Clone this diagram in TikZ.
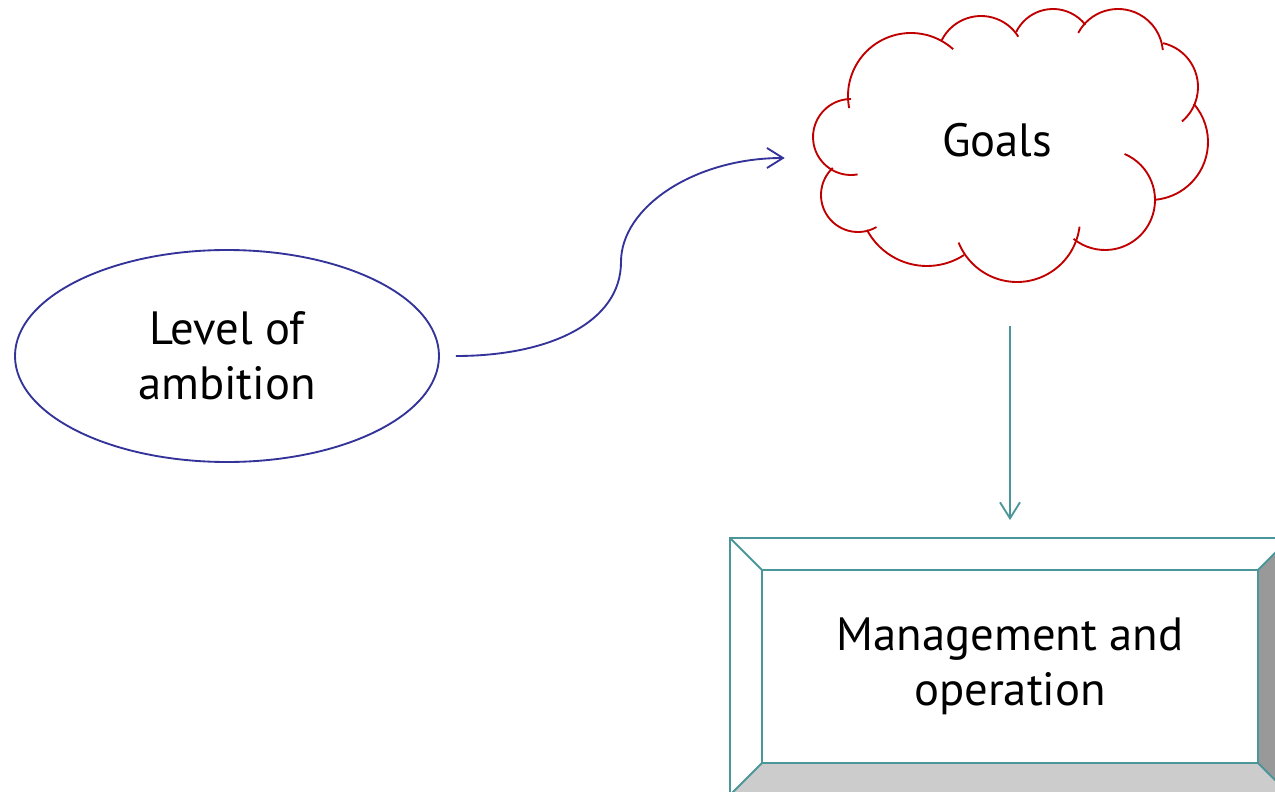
\documentclass[tikz,border=0pt]{standalone}
\usepackage{fontspec}
\setmainfont{PT Sans}
\usetikzlibrary{shapes.geometric,arrows.meta,calc}

\definecolor{ambblue}{RGB}{51,51,153}
\definecolor{goalred}{RGB}{192,0,0}
\definecolor{mgmtteal}{RGB}{75,150,153}

\tikzset{
  labeltext/.style={font=\fontsize{35}{41}\selectfont, align=center, text=black},
  barb/.style={-{Straight Barb[length=12pt,width=15pt]}},
  puff/.style={draw=goalred, line width=1.4pt},
}

\begin{document}
\begin{tikzpicture}[x=0.75pt,y=0.75pt,yscale=-1,xscale=1]
\clip (0,0) rectangle (1275,792);

%Shape: Ellipse [id:amb]
\node (amb) [ellipse, draw=ambblue, line width=1.4pt, minimum width=318pt, minimum height=159pt, labeltext] at (227,356) {Level of\\ambition};

%Shape: Cloud [id:goals]
\node (goals) [labeltext, minimum width=276pt, minimum height=213pt] at (997,140) {Goals};
\draw [puff] (851,137) ++(80:38) arc [start angle=80, end angle=270, radius=38] ;
\draw [puff] (858,195) ++(60:37) arc [start angle=60, end angle=227, radius=37] ;
\draw [puff] (927,198) ++(57:68) arc [start angle=57, end angle=152, radius=68] ;
\draw [puff] (1017,219) ++(7:63) arc [start angle=7, end angle=158, radius=63] ;
\draw [puff] (1105,200) ++(-67:50) arc [start angle=-67, end angle=129, radius=50] ;
\draw [puff] (1150,142) ++(-41:58) arc [start angle=-41, end angle=85, radius=58] ;
\draw [puff] (1153,87) ++(-77:45) arc [start angle=-77, end angle=50, radius=45] ;
\draw [puff] (1118,54) ++(-152:45) arc [start angle=-152, end angle=-5, radius=45] ;
\draw [puff] (1053,50) ++(-154:41) arc [start angle=-154, end angle=-38, radius=41] ;
\draw [puff] (981,60) ++(-153:44) arc [start angle=-153, end angle=-32, radius=44] ;
\draw [puff] (911,96) ++(169:63) arc [start angle=169, end angle=312, radius=63] ;

%Shape: Bevel [id:mgmt]
\fill [black!40] (1258,570) -- (1290,538) -- (1290,795) -- (1258,763) -- cycle ;
\fill [black!20] (762,763) -- (1258,763) -- (1290,795) -- (730,795) -- cycle ;
\draw [mgmtteal, line width=1.4pt] (730,538) rectangle (1290,795) ;
\draw [mgmtteal, line width=1.4pt] (730,538) -- (762,570) (1290,538) -- (1258,570) (730,795) -- (762,763) (1290,795) -- (1258,763) ;
\node (mgmt) [draw=mgmtteal, line width=1.4pt, minimum width=372pt, minimum height=144.75pt, labeltext] at (1010,666.5) {Management and\\operation};

%Curve Lines [id:amb-goals]
\coordinate (bend) at (621,262);
\draw [ambblue, line width=1.4pt, barb, shorten <=12pt] (amb.east) .. controls +(110,0) and +(0,60) .. (bend) .. controls +(0,-55) and +(-90,0) .. ($(goals.west)+(-28,18)$) ;

%Straight Lines [id:goals-mgmt]
\draw [mgmtteal, line width=1.4pt, barb, shorten <=33pt, shorten >=36.75pt] (goals.south -| mgmt.north) -- (mgmt.north) ;

\end{tikzpicture}
\end{document}
